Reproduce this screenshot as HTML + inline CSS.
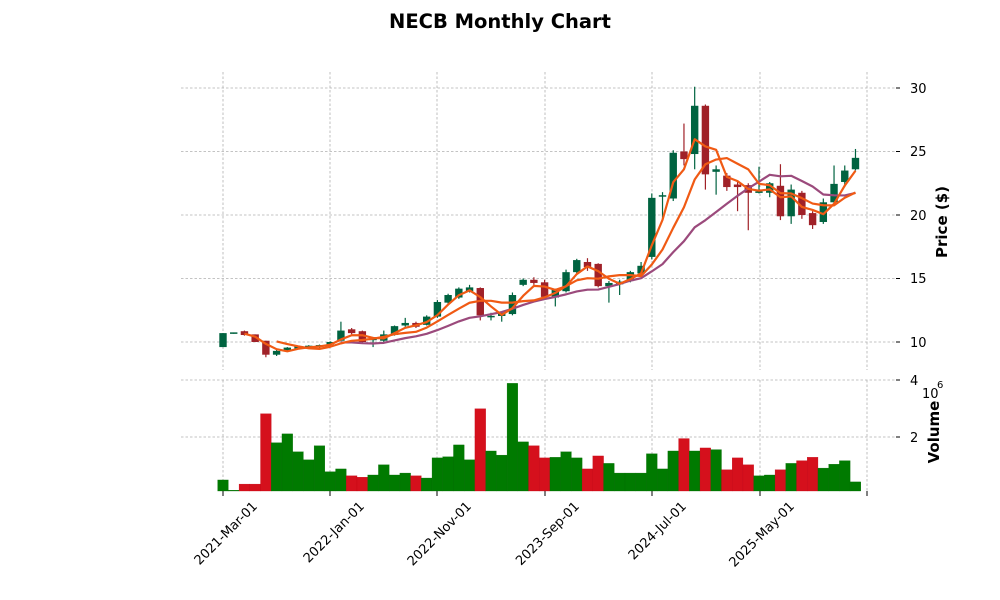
<!DOCTYPE html>
<html><head><meta charset="utf-8"><style>
html,body{margin:0;padding:0;background:#fff;}
svg{display:block;font-family:"DejaVu Sans","Liberation Sans",sans-serif;}
</style></head><body>
<svg id="s" width="1000" height="600" viewBox="0 0 1000 600" xmlns="http://www.w3.org/2000/svg">
<rect width="1000" height="600" fill="#fff"/>
<text x="500" y="28" text-anchor="middle" font-size="19.5" font-weight="bold">NECB Monthly Chart</text>
<g id="grid" stroke="#b0b0b0" stroke-width="0.8" stroke-dasharray="2.5,2"></g>
<g id="plot"></g>
<g font-size="13" fill="#000">
<text x="910" y="347">10</text>
<text x="910" y="283">15</text>
<text x="910" y="220">20</text>
<text x="910" y="156">25</text>
<text x="910" y="93">30</text>
<text x="910" y="442">2</text>
<text x="910" y="385">4</text>
<text x="922" y="398">10</text><text x="937" y="388" font-size="10">6</text>
</g>
<text transform="translate(947,222) rotate(-90)" text-anchor="middle" font-size="15" font-weight="bold">Price ($)</text>
<text transform="translate(939,432) rotate(-90)" text-anchor="middle" font-size="15" font-weight="bold">Volume</text>
<g font-size="13">
<text transform="translate(258,507) rotate(-45)" text-anchor="end">2021-Mar-01</text>
<text transform="translate(365,507) rotate(-45)" text-anchor="end">2022-Jan-01</text>
<text transform="translate(472,507) rotate(-45)" text-anchor="end">2022-Nov-01</text>
<text transform="translate(580,507) rotate(-45)" text-anchor="end">2023-Sep-01</text>
<text transform="translate(687,507) rotate(-45)" text-anchor="end">2024-Jul-01</text>
<text transform="translate(795,507) rotate(-45)" text-anchor="end">2025-May-01</text>
</g>
</svg>
<script>
var D=[[9.6,10.7,10.7,9.6,.4],[10.7,10.7,10.75,10.65,.03],[10.85,10.55,10.9,10.5,.25],[10.6,10,10.6,10,.25],[10.1,9,10.1,8.8,2.8],
[9,9.3,9.4,8.9,1.75],[9.4,9.5,9.6,9.3,2.07],[9.55,9.6,9.7,9.5,1.42],[9.6,9.65,9.75,9.5,1.13],[9.7,9.7,9.8,9.5,1.64],
[9.8,10,10.05,9.75,.7],[10.1,10.9,11.6,10.05,.8],[11,10.7,11.1,10.6,.55],[10.85,10,10.9,9.9,.5],[10.2,10.25,10.4,9.6,.58],
[10.1,10.6,10.9,10,.95],[10.55,11.25,11.3,10.5,.58],[11.3,11.5,11.9,11.2,.65],[11.5,11.2,11.6,11.1,.55],[11.35,12,12.1,11.3,.47],
[12,13.15,13.3,11.9,1.2],[13.1,13.7,13.8,13,1.24],[13.5,14.2,14.3,13.4,1.67],[14,14.3,14.5,13.9,1.13],[14.25,12.1,14.3,11.7,2.98],
[12,12,12.3,11.7,1.45],[12.05,12.3,12.4,11.6,1.3],[12.2,13.7,13.9,12.1,3.9],[14.5,14.9,15,14.4,1.78],[14.9,14.65,15.1,14.5,1.64],
[14.7,13.55,14.9,13.4,1.2],[13.5,14.1,14.2,12.8,1.22],[14,15.5,15.7,13.9,1.42],[15.5,16.45,16.55,15.4,1.2],[16.3,15.9,16.6,15.6,.8],
[16.15,14.4,16.2,14.3,1.27],[14.4,14.65,14.8,13.1,1],[14.6,14.7,14.9,13.7,.65],[14.8,15.5,15.6,14.7,.65],[15.4,16,16.3,15.3,.65],
[16.7,21.35,21.7,16.5,1.35],[21.5,21.5,21.8,19.6,.8],[21.3,24.9,25.1,21.1,1.45],[25,24.4,27.2,23.9,1.9],[24.8,28.6,30.1,23.6,1.45],
[28.6,23.2,28.7,22,1.56],[23.4,23.6,23.9,21.6,1.5],[23.1,22.2,23.3,21.9,.77],[22.4,22.2,22.6,20.3,1.2],[22.35,21.75,22.5,18.8,.95],
[21.8,21.8,23.8,21.7,.55],[21.75,22.5,22.6,21.4,.58],[22.3,19.9,24,19.6,.77],[19.9,22,22.4,19.3,1],[21.75,20,21.9,19.7,1.1],
[20.15,19.2,20.3,18.9,1.22],[19.45,21,21.3,19.3,.83],[21,22.45,23.9,20.8,.97],[22.6,23.5,23.9,22.2,1.1],[23.6,24.5,25.2,23.5,.33]];
var NS="http://www.w3.org/2000/svg";
function el(p,t,a){var e=document.createElementNS(NS,t);for(var k in a)e.setAttribute(k,a[k]);p.appendChild(e);return e;}
var g=document.getElementById('grid'),P=document.getElementById('plot');
function X(i){return 223+10.72*i;}function Y(p){return 342-(p-10)*12.7;}function V(v){return 491-27.6*v;}
[10,15,20,25,30].forEach(function(p){el(g,'line',{x1:181,x2:896,y1:Y(p),y2:Y(p)});});
[437,380].forEach(function(y){el(g,'line',{x1:181,x2:896,y1:y,y2:y});});
[223,330,437,545,652,760,867].forEach(function(x){if(x<896){el(g,'line',{x1:x,x2:x,y1:72,y2:370});el(g,'line',{x1:x,x2:x,y1:380,y2:491});}
el(P,'line',{x1:x,x2:x,y1:491,y2:496,stroke:'#000','stroke-width':1});});
[10,15,20,25,30].forEach(function(p){el(P,'line',{x1:896,x2:900,y1:Y(p),y2:Y(p),stroke:'#000'});});
[437,380].forEach(function(y){el(P,'line',{x1:896,x2:900,y1:y,y2:y,stroke:'#000'});});
D.forEach(function(d,i){var up=d[1]>=d[0],x=X(i);
el(P,'rect',{x:x-5.36,y:V(d[4]),width:10.72,height:491-V(d[4]),fill:up?'#007a00':'#d5101c',stroke:up?'#006a00':'#c00010','stroke-width':0.3});
var c=up?'#006340':'#a02128';
el(P,'line',{x1:x,x2:x,y1:Y(d[2]),y2:Y(d[3]),stroke:c,'stroke-width':1.2});
var t=Y(Math.max(d[0],d[1])),b=Y(Math.min(d[0],d[1]));if(b-t<1.5){t-=0.75;b+=0.75;}
el(P,'rect',{x:x-3.7,y:t,width:7.4,height:b-t,fill:c});});
function ma(n,col,w){var pts=[];for(var i=n-1;i<D.length;i++){var s=0;for(var j=i-n+1;j<=i;j++)s+=D[j][1];pts.push(X(i)+','+Y(s/n));}
el(P,'polyline',{points:pts.join(' '),fill:'none',stroke:col,'stroke-width':w,'stroke-linejoin':'round'});}
ma(12,'#9b4a7c',2.2);ma(6,'#f05a14',2.2);ma(3,'#f05a14',2.2);
</script>
</body></html>
